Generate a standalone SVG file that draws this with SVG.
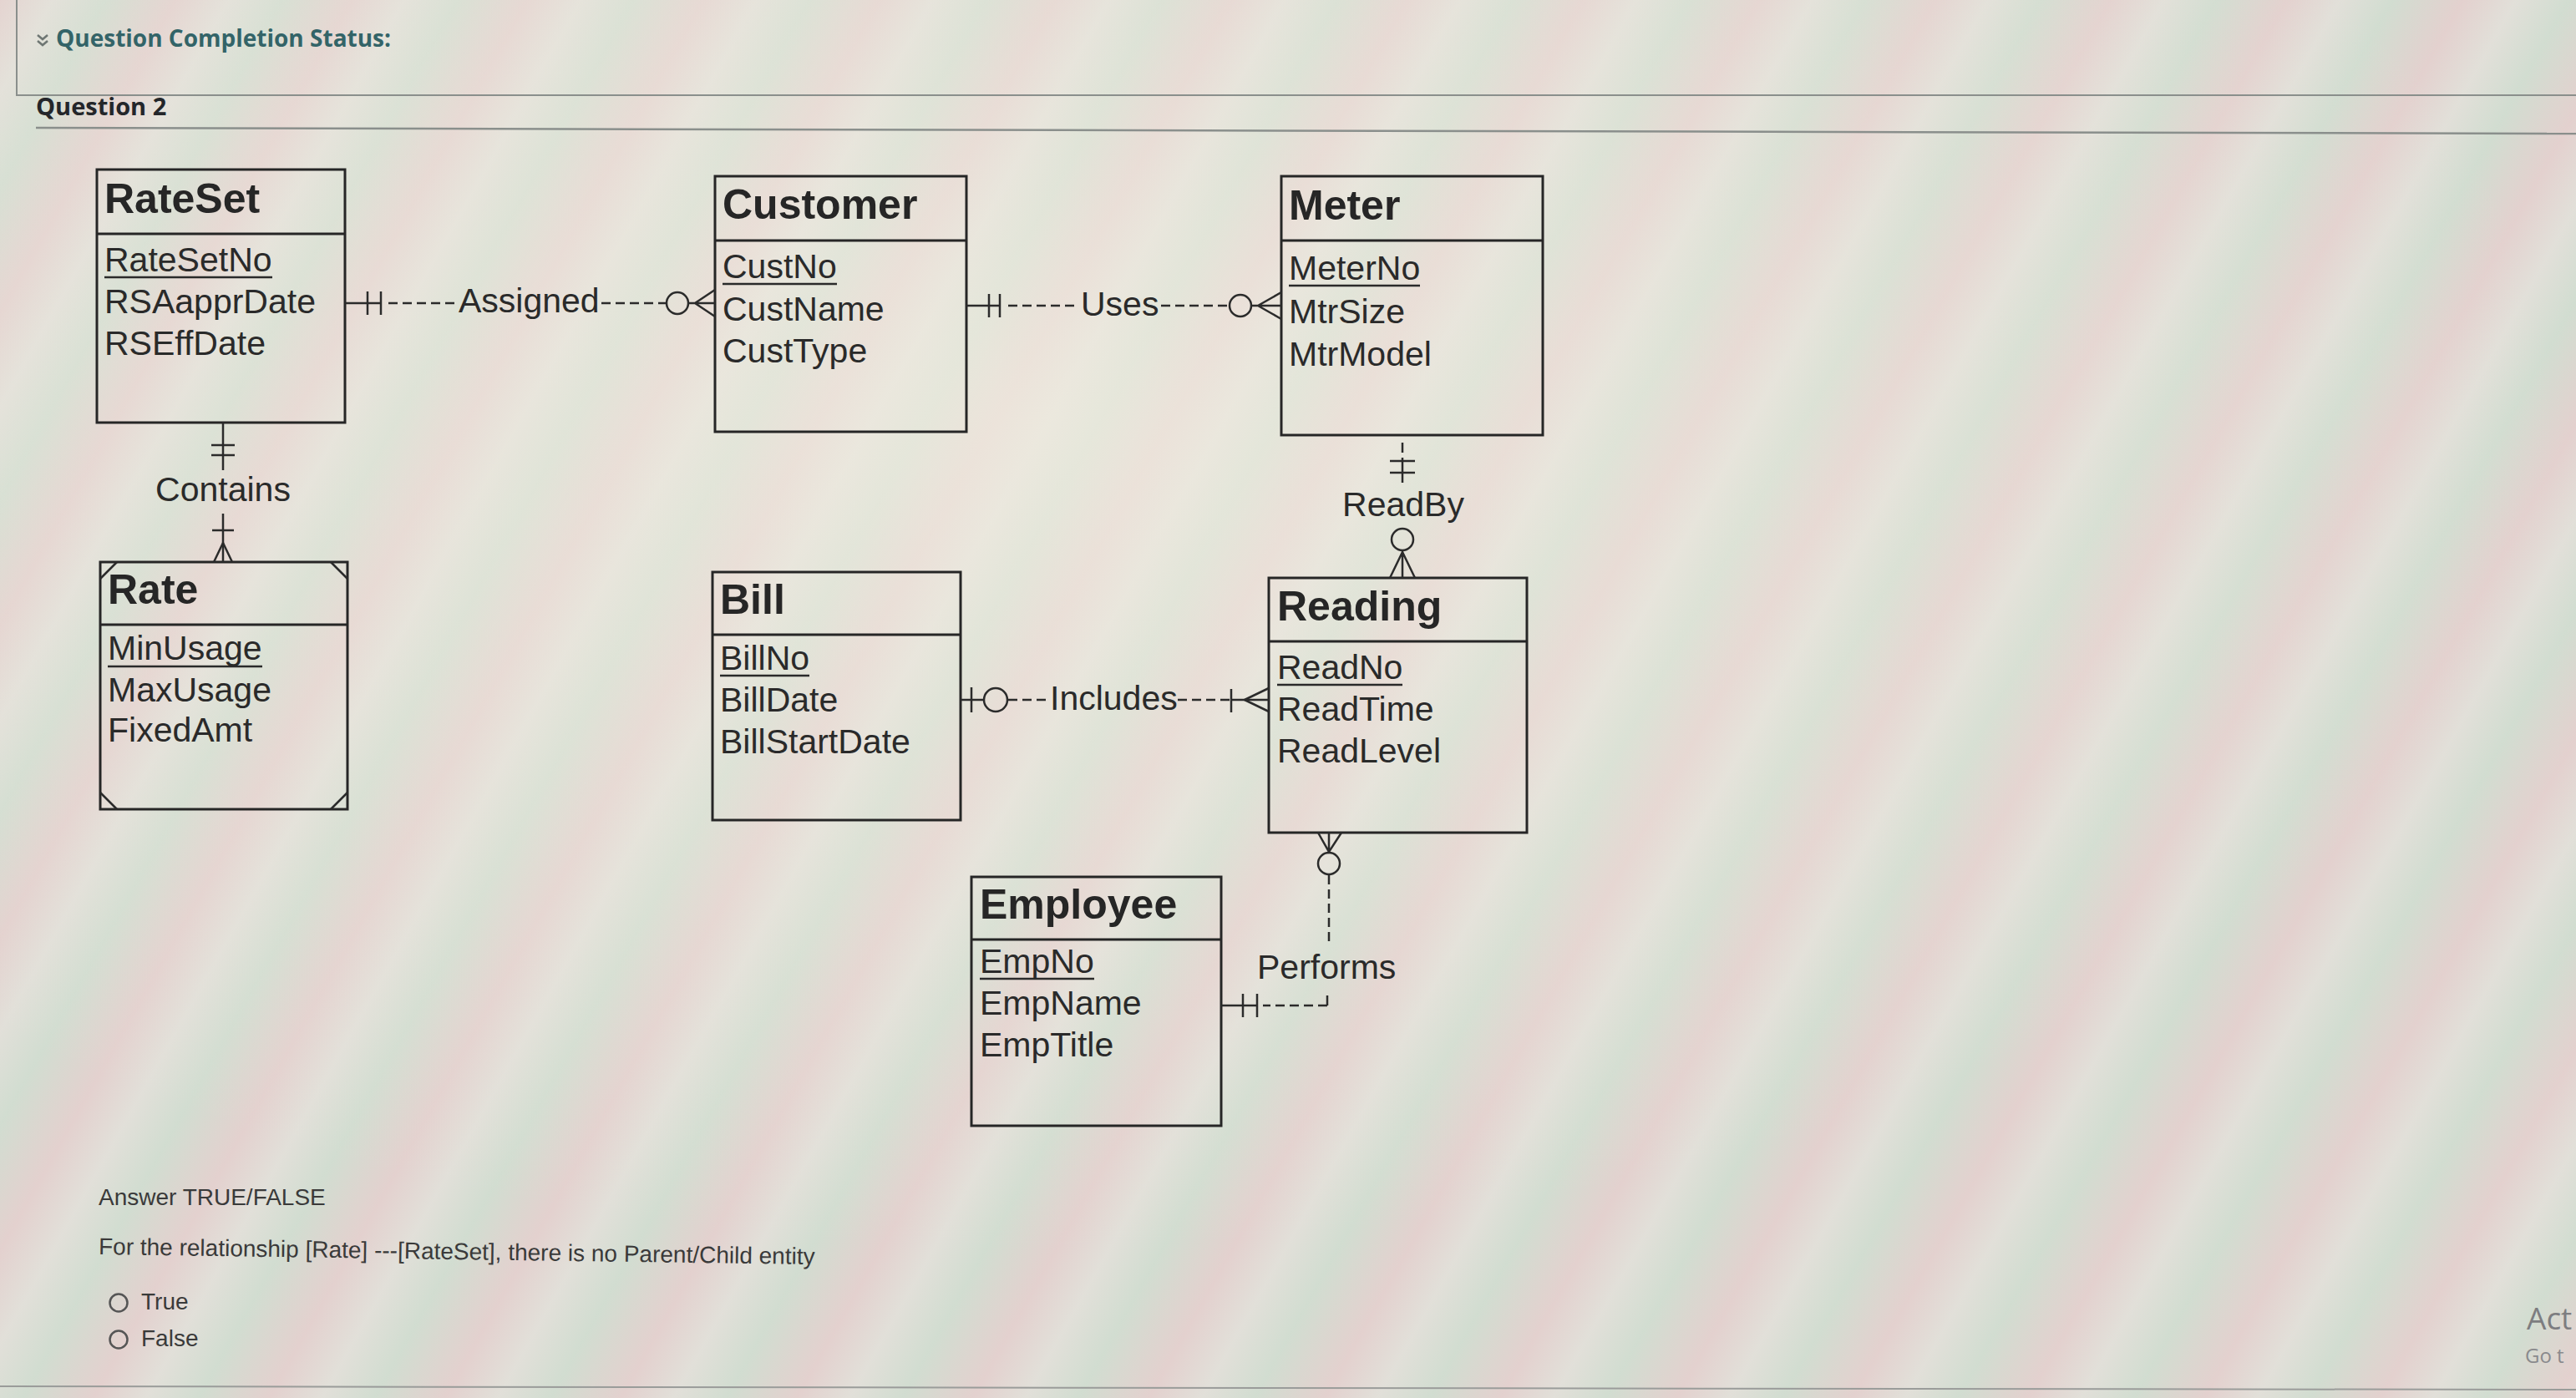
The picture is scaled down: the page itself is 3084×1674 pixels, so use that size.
<svg xmlns="http://www.w3.org/2000/svg" width="3084" height="1674" viewBox="0 0 3084 1674">
  <defs>
    <linearGradient id="moire" x1="0" y1="0" x2="160" y2="90" gradientUnits="userSpaceOnUse" spreadMethod="repeat">
      <stop offset="0" stop-color="#e9c9c9"/>
      <stop offset="0.3" stop-color="#e6e4dc"/>
      <stop offset="0.6" stop-color="#c9dfcd"/>
      <stop offset="1" stop-color="#e9c9c9"/>
    </linearGradient>
    <radialGradient id="glow" cx="0.4" cy="0.3" r="0.6">
      <stop offset="0" stop-color="#f0ece0" stop-opacity="0.7"/>
      <stop offset="1" stop-color="#f0ece0" stop-opacity="0"/>
    </radialGradient>
  </defs>
  <style>
    .box { fill: none; stroke: #262626; stroke-width: 3; }
    .div { stroke: #262626; stroke-width: 3; }
    .title { font-family: "Liberation Sans", Arial, sans-serif; font-weight: bold; font-size: 50px; fill: #262626; }
    .attr { font-family: "Liberation Sans", Arial, sans-serif; font-size: 41px; fill: #2a2a2a; }
    .pk { stroke: #2a2a2a; stroke-width: 2.5; }
    .ln { stroke: #2b2b2b; stroke-width: 2.5; fill: none; }
    .dash { stroke-dasharray: 11 6; }
    .lbl { font-family: "Liberation Sans", Arial, sans-serif; font-size: 41px; fill: #2a2a2a; }
    .hdr { font-family: "Open Sans", "Liberation Sans", sans-serif; font-weight: bold; }
    .q { font-family: "Liberation Sans", Arial, sans-serif; font-size: 28px; fill: #3a3a3a; }
  </style>

  <!-- background -->
  <rect x="0" y="0" width="3084" height="1674" fill="#dcdad5"/>
  <rect x="0" y="0" width="3084" height="1674" fill="url(#moire)" opacity="0.55"/>
  <rect x="0" y="0" width="3084" height="1674" fill="url(#glow)"/>

  <!-- page header -->
  <g id="header">
    <path d="M20 0 V114 H3084" fill="none" stroke="#8a8f8c" stroke-width="2"/>
    <path d="M45 42 l6 5 l6 -5 M45 49 l6 5 l6 -5" fill="none" stroke="#6e7673" stroke-width="2.5"/>
    <text class="hdr" x="67" y="56" font-size="28" fill="#336468">Question Completion Status:</text>
    <text class="hdr" x="43" y="138" font-size="29" fill="#24262a">Question 2</text>
    <line x1="43" y1="153" x2="3084" y2="160" stroke="#8a8f8c" stroke-width="2.5"/>
  </g>

  <!-- entities -->
  <g id="RateSet">
    <rect class="box" x="116" y="203" width="297" height="303"/>
    <line class="div" x1="116" y1="280" x2="413" y2="280"/>
    <text class="title" x="125" y="255">RateSet</text>
    <text class="attr" x="125" y="325">RateSetNo</text>
    <line class="pk" x1="125" y1="332" x2="326" y2="332"/>
    <text class="attr" x="125" y="375">RSAapprDate</text>
    <text class="attr" x="125" y="425">RSEffDate</text>
  </g>

  <g id="Customer">
    <rect class="box" x="856" y="211" width="301" height="306"/>
    <line class="div" x1="856" y1="288" x2="1157" y2="288"/>
    <text class="title" x="865" y="262">Customer</text>
    <text class="attr" x="865" y="333">CustNo</text>
    <line class="pk" x1="865" y1="340" x2="1002" y2="340"/>
    <text class="attr" x="865" y="384">CustName</text>
    <text class="attr" x="865" y="434">CustType</text>
  </g>

  <g id="Meter">
    <rect class="box" x="1534" y="211" width="313" height="310"/>
    <line class="div" x1="1534" y1="288" x2="1847" y2="288"/>
    <text class="title" x="1543" y="263">Meter</text>
    <text class="attr" x="1543" y="335">MeterNo</text>
    <line class="pk" x1="1543" y1="342" x2="1700" y2="342"/>
    <text class="attr" x="1543" y="387">MtrSize</text>
    <text class="attr" x="1543" y="438">MtrModel</text>
  </g>

  <g id="Rate">
    <rect class="box" x="120" y="673" width="296" height="296"/>
    <line class="div" x1="120" y1="748" x2="416" y2="748"/>
    <path class="ln" d="M120 693 L140 673 M396 673 L416 693 M120 949 L140 969 M396 969 L416 949"/>
    <text class="title" x="129" y="723">Rate</text>
    <text class="attr" x="129" y="790">MinUsage</text>
    <line class="pk" x1="129" y1="798" x2="314" y2="798"/>
    <text class="attr" x="129" y="840">MaxUsage</text>
    <text class="attr" x="129" y="888">FixedAmt</text>
  </g>

  <g id="Bill">
    <rect class="box" x="853" y="685" width="297" height="297"/>
    <line class="div" x1="853" y1="760" x2="1150" y2="760"/>
    <text class="title" x="862" y="735">Bill</text>
    <text class="attr" x="862" y="802">BillNo</text>
    <line class="pk" x1="862" y1="809" x2="969" y2="809"/>
    <text class="attr" x="862" y="852">BillDate</text>
    <text class="attr" x="862" y="902">BillStartDate</text>
  </g>

  <g id="Reading">
    <rect class="box" x="1519" y="692" width="309" height="305"/>
    <line class="div" x1="1519" y1="768" x2="1828" y2="768"/>
    <text class="title" x="1529" y="743">Reading</text>
    <text class="attr" x="1529" y="813">ReadNo</text>
    <line class="pk" x1="1529" y1="820" x2="1679" y2="820"/>
    <text class="attr" x="1529" y="863">ReadTime</text>
    <text class="attr" x="1529" y="913">ReadLevel</text>
  </g>

  <g id="Employee">
    <rect class="box" x="1163" y="1050" width="299" height="298"/>
    <line class="div" x1="1163" y1="1125" x2="1462" y2="1125"/>
    <text class="title" x="1173" y="1100">Employee</text>
    <text class="attr" x="1173" y="1165">EmpNo</text>
    <line class="pk" x1="1173" y1="1172" x2="1310" y2="1172"/>
    <text class="attr" x="1173" y="1215">EmpName</text>
    <text class="attr" x="1173" y="1265">EmpTitle</text>
  </g>

  <!-- connectors -->
  <g id="connectors">
    <!-- Assigned: RateSet -> Customer -->
    <g id="c-assigned">
      <line class="ln" x1="413" y1="363" x2="456" y2="363"/>
      <line class="ln" x1="440" y1="349" x2="440" y2="377"/>
      <line class="ln" x1="456" y1="349" x2="456" y2="377"/>
      <line class="ln dash" x1="465" y1="363" x2="549" y2="363"/>
      <line class="ln dash" x1="720" y1="363" x2="798" y2="363"/>
      <circle class="ln" cx="811" cy="363" r="13"/>
      <path class="ln" d="M824 363 H856 M832 363 L856 347 M832 363 L856 379"/>
      <text class="lbl" x="549" y="374">Assigned</text>
    </g>
    <!-- Uses: Customer -> Meter -->
    <g id="c-uses">
      <line class="ln" x1="1157" y1="366" x2="1197" y2="366"/>
      <line class="ln" x1="1184" y1="352" x2="1184" y2="380"/>
      <line class="ln" x1="1197" y1="352" x2="1197" y2="380"/>
      <line class="ln dash" x1="1207" y1="366" x2="1292" y2="366"/>
      <line class="ln dash" x1="1390" y1="366" x2="1472" y2="366"/>
      <circle class="ln" cx="1485" cy="366" r="13"/>
      <path class="ln" d="M1498 366 H1534 M1506 366 L1534 350 M1506 366 L1534 382"/>
      <text class="lbl" x="1294" y="378">Uses</text>
    </g>
    <!-- Contains: RateSet -> Rate -->
    <g id="c-contains">
      <line class="ln" x1="267" y1="506" x2="267" y2="563"/>
      <line class="ln" x1="253" y1="533" x2="281" y2="533"/>
      <line class="ln" x1="253" y1="545" x2="281" y2="545"/>
      <line class="ln" x1="267" y1="615" x2="267" y2="673"/>
      <line class="ln" x1="254" y1="635" x2="280" y2="635"/>
      <path class="ln" d="M267 650 L256 673 M267 650 L278 673"/>
      <text class="lbl" x="267" y="600" text-anchor="middle">Contains</text>
    </g>
    <!-- ReadBy: Meter -> Reading -->
    <g id="c-readby">
      <line class="ln" x1="1679" y1="530" x2="1679" y2="542"/>
      <line class="ln" x1="1679" y1="548" x2="1679" y2="578"/>
      <line class="ln" x1="1664" y1="552" x2="1694" y2="552"/>
      <line class="ln" x1="1664" y1="566" x2="1694" y2="566"/>
      <text class="lbl" x="1680" y="618" text-anchor="middle">ReadBy</text>
      <circle class="ln" cx="1679" cy="646" r="13"/>
      <path class="ln" d="M1679 659 V692 M1679 661 L1664 692 M1679 661 L1694 692"/>
    </g>
    <!-- Includes: Bill -> Reading -->
    <g id="c-includes">
      <line class="ln" x1="1150" y1="838" x2="1178" y2="838"/>
      <line class="ln" x1="1163" y1="823" x2="1163" y2="853"/>
      <circle class="ln" cx="1192" cy="838" r="14"/>
      <line class="ln dash" x1="1207" y1="838" x2="1256" y2="838"/>
      <text class="lbl" x="1257" y="850">Includes</text>
      <line class="ln dash" x1="1410" y1="838" x2="1474" y2="838"/>
      <line class="ln" x1="1474" y1="838" x2="1519" y2="838"/>
      <line class="ln" x1="1474" y1="825" x2="1474" y2="853"/>
      <path class="ln" d="M1490 838 L1519 824 M1490 838 L1519 852"/>
    </g>
    <!-- Performs: Employee -> Reading -->
    <g id="c-performs">
      <path class="ln" d="M1578 997 L1591 1020 L1606 997 M1591 997 V1021"/>
      <circle class="ln" cx="1591" cy="1034" r="13"/>
      <line class="ln dash" x1="1591" y1="1048" x2="1591" y2="1133"/>
      <text class="lbl" x="1505" y="1172">Performs</text>
      <line class="ln" x1="1589" y1="1192" x2="1589" y2="1204"/>
      <line class="ln dash" x1="1589" y1="1204" x2="1512" y2="1204"/>
      <line class="ln" x1="1462" y1="1204" x2="1505" y2="1204"/>
      <line class="ln" x1="1488" y1="1190" x2="1488" y2="1218"/>
      <line class="ln" x1="1505" y1="1190" x2="1505" y2="1218"/>
    </g>
  </g>

  <!-- question -->
  <g id="question">
    <text class="q" x="118" y="1443">Answer TRUE/FALSE</text>
    <text class="q" x="118" y="1502" transform="rotate(0.8 118 1502)">For the relationship [Rate] ---[RateSet], there is no Parent/Child entity</text>
    <circle cx="142" cy="1560" r="10.5" fill="none" stroke="#555" stroke-width="2.5"/>
    <text class="q" x="169" y="1568" font-size="27">True</text>
    <circle cx="142" cy="1604" r="10.5" fill="none" stroke="#555" stroke-width="2.5"/>
    <text class="q" x="169" y="1612" font-size="27">False</text>
  </g>

  <g id="watermark">
    <text x="3025" y="1592" font-family="'Segoe UI', 'Open Sans', sans-serif" font-size="37" fill="#7d7d80">Act</text>
    <text x="3023" y="1632" font-family="'Segoe UI', 'Open Sans', sans-serif" font-size="24" fill="#8a8a8d">Go t</text>
  </g>

  <line x1="0" y1="1660" x2="3084" y2="1664" stroke="#9a9c9a" stroke-width="2"/>
</svg>
